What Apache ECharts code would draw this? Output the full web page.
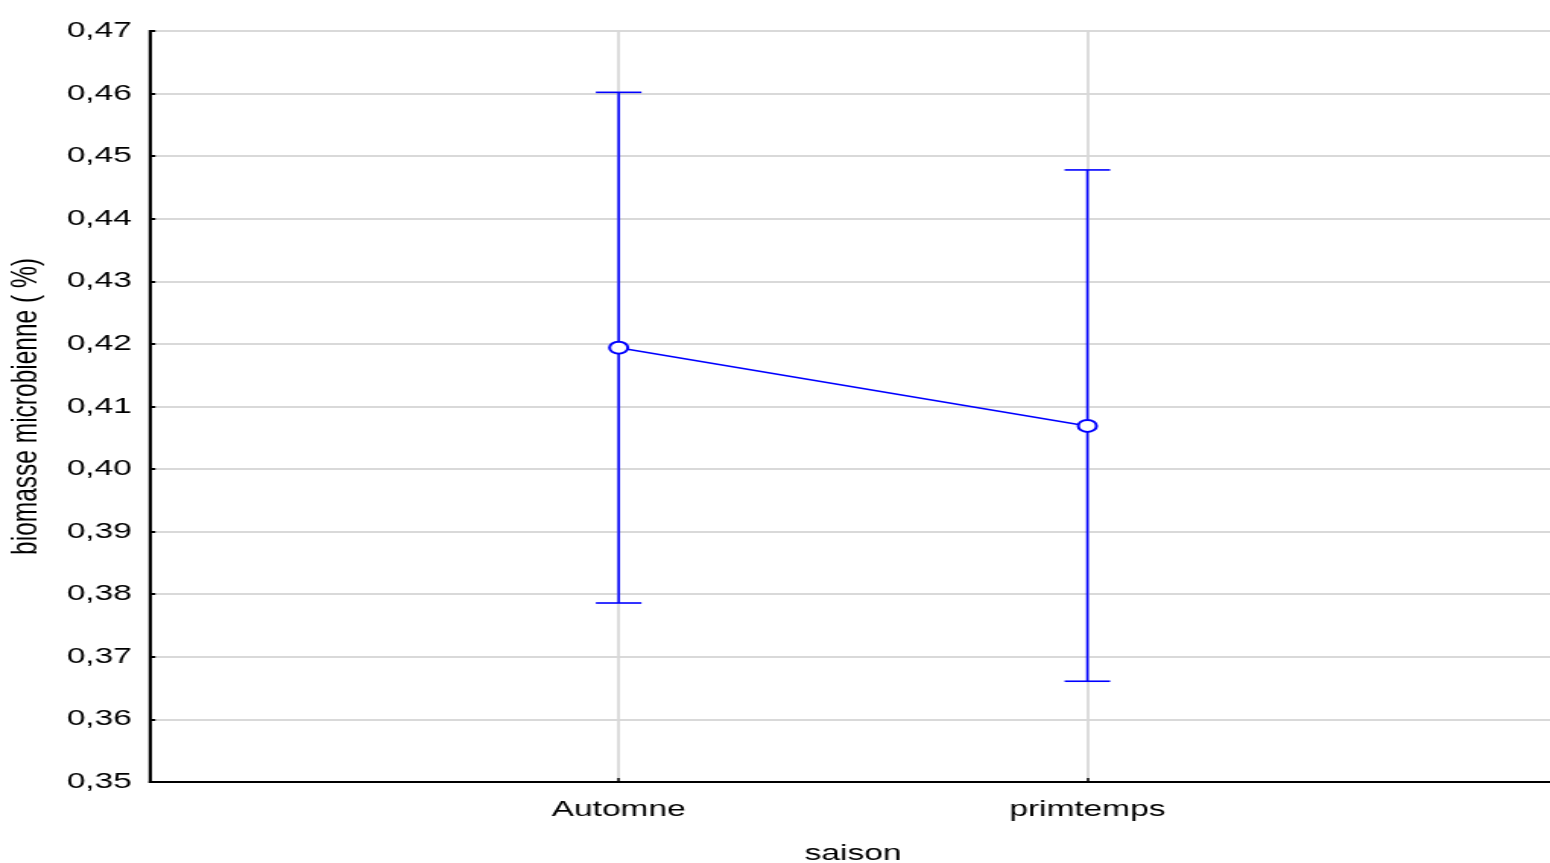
<!DOCTYPE html>
<html>
<head>
<meta charset="utf-8">
<script src="https://cdn.jsdelivr.net/npm/echarts@6/dist/echarts.min.js"></script>
<style>
  html, body { margin: 0; padding: 0; background: #fff; overflow: hidden; }
  /* the plot is laid out on a narrower canvas and widened horizontally */
  #chart { width: 1020px; height: 863px; transform: scaleX(1.5196); transform-origin: 0 0; }
</style>
</head>
<body>
<div id="chart"></div>
<script>
// Seasons and the mean microbial biomass with its confidence interval
const categories = ['Automne', 'primtemps'];
const means = [0.4194, 0.4069];
const lowerBounds = [0.3786, 0.3661];
const upperBounds = [0.4602, 0.4478];
const yTicks = [0.35, 0.36, 0.37, 0.38, 0.39, 0.40, 0.41, 0.42, 0.43, 0.44, 0.45, 0.46, 0.47];

// Empty slots at both ends place the two seasons at one and two thirds of the width
const axisData = [''].concat(categories, ['']);
const meanData = [null].concat(means, [null]);
const barData = categories.map((c, i) => [i + 1, lowerBounds[i], upperBounds[i]]);

const BLUE = '#0000ff';
const GRID = '#d9d9d9';
const FONT = 'Liberation Sans, Arial, sans-serif';

const tickText = v => {
  const t = yTicks.find(k => Math.abs(k - v) < 1e-9);
  return (t !== undefined ? t : v).toFixed(2).replace('.', ',');
};

const chart = echarts.init(document.getElementById('chart'), null, { renderer: 'canvas' });
chart.setOption({
  animation: false,
  backgroundColor: '#ffffff',
  grid: {
    left: 98.7, right: -4, top: 31, bottom: 81,
    outerBoundsMode: 'none',
    containLabel: false,
    show: true, borderColor: '#000', borderWidth: 1.8, backgroundColor: 'transparent'
  },
  xAxis: {
    type: 'category',
    data: axisData,
    boundaryGap: false,
    name: 'saison',
    nameLocation: 'middle',
    nameGap: 61,
    nameTextStyle: { fontFamily: FONT, fontSize: 22, color: '#000' },
    axisLine: { show: true, lineStyle: { color: '#000', width: 2 } },
    axisTick: { show: true, inside: true, length: 4, lineStyle: { color: '#000', width: 1.5 } },
    axisLabel: { fontFamily: FONT, fontSize: 22, color: '#000', margin: 17 },
    splitLine: { show: true, lineStyle: { color: GRID, width: 1.8 } }
  },
  yAxis: [
    {
      type: 'value',
      min: 0.35, max: 0.47, interval: 0.01,
      name: 'biomasse microbienne ( %)',
      nameLocation: 'middle',
      nameGap: 69,
      nameRotate: 90,
      nameTextStyle: { fontFamily: FONT, fontSize: 24.5, color: '#000' },
      axisLine: { show: true, lineStyle: { color: '#000', width: 2 } },
      axisTick: { show: true, inside: true, length: 3.5, lineStyle: { color: '#000', width: 2 } },
      axisLabel: { fontFamily: FONT, fontSize: 22, color: '#000', margin: 12, formatter: tickText },
      splitLine: { show: true, lineStyle: { color: GRID, width: 2 } }
    },
    {
      type: 'value',
      position: 'right',
      min: 0.35, max: 0.47, interval: 0.01,
      axisLine: { show: true, lineStyle: { color: '#000', width: 2 } },
      axisTick: { show: true, inside: true, length: 4, lineStyle: { color: '#000', width: 2 } },
      axisLabel: { show: false },
      splitLine: { show: false }
    }
  ],
  series: [
    {
      type: 'custom',
      data: barData,
      z: 3,
      renderItem: (params, api) => {
        const x = api.value(0);
        const lo = api.coord([x, api.value(1)]);
        const hi = api.coord([x, api.value(2)]);
        const half = 15;
        const style = { stroke: BLUE, lineWidth: 1.6 };
        return {
          type: 'group',
          children: [
            { type: 'line', shape: { x1: lo[0], y1: lo[1], x2: hi[0], y2: hi[1] }, style },
            { type: 'line', shape: { x1: hi[0] - half, y1: hi[1], x2: hi[0] + half, y2: hi[1] }, style },
            { type: 'line', shape: { x1: lo[0] - half, y1: lo[1], x2: lo[0] + half, y2: lo[1] }, style }
          ]
        };
      }
    },
    {
      type: 'line',
      data: meanData,
      z: 4,
      symbol: 'emptyCircle',
      symbolSize: 12,
      lineStyle: { color: BLUE, width: 1.6 },
      itemStyle: { color: BLUE, borderColor: BLUE, borderWidth: 1.6 },
      connectNulls: false
    }
  ]
});
</script>
</body>
</html>
